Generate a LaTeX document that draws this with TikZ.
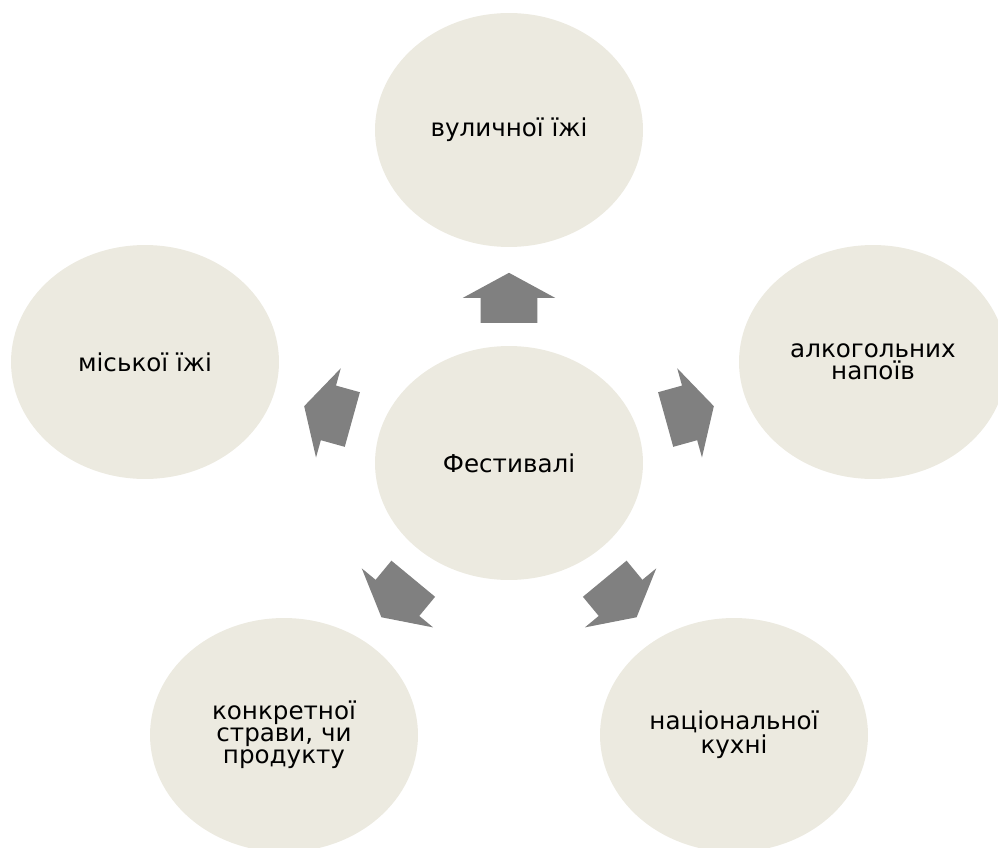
\documentclass[tikz,border=0pt]{standalone}
\usepackage{fontspec}
\setmainfont{DejaVu Sans}
\usetikzlibrary{shapes.geometric,shapes.arrows}
\definecolor{bubblefill}{RGB}{236,234,224}
\definecolor{arrowgray}{RGB}{128,128,128}

\begin{document}
\begin{tikzpicture}[x=0.02cm,y=-0.02cm,every node/.style={font=\fontsize{14}{12.5}\selectfont},
  bubble/.style={ellipse,fill=bubblefill,minimum width=5.36cm,minimum height=4.68cm,inner sep=0pt,align=center},
  fatarrow/.style={single arrow,fill=arrowgray,inner sep=0pt,text height=0.56cm,text depth=0.56cm,minimum height=1cm,
    single arrow head extend=0.36cm,single arrow tip angle=123,midway,sloped,allow upside down,xshift=-0.18cm}]
  \useasboundingbox (0,0) rectangle (998,848);
  \node[bubble] (fest) at (509,463) {Фестивалі};
  \node[bubble] (street) at (509,130) {вуличної їжі};
  \node[bubble] (drinks) at (873,362) {алкогольних\\напоїв};
  \node[bubble] (national) at (734,735) {національної\\кухні};
  \node[bubble] (dish) at (284,735) {конкретної\\страви, чи\\продукту};
  \node[bubble] (city) at (145,362) {міської їжі};

  \foreach \t in {street,drinks,national,dish,city}
    \path (fest.center) -- (\t.center) node[fatarrow] (arr-\t) {};
\end{tikzpicture}
\end{document}
